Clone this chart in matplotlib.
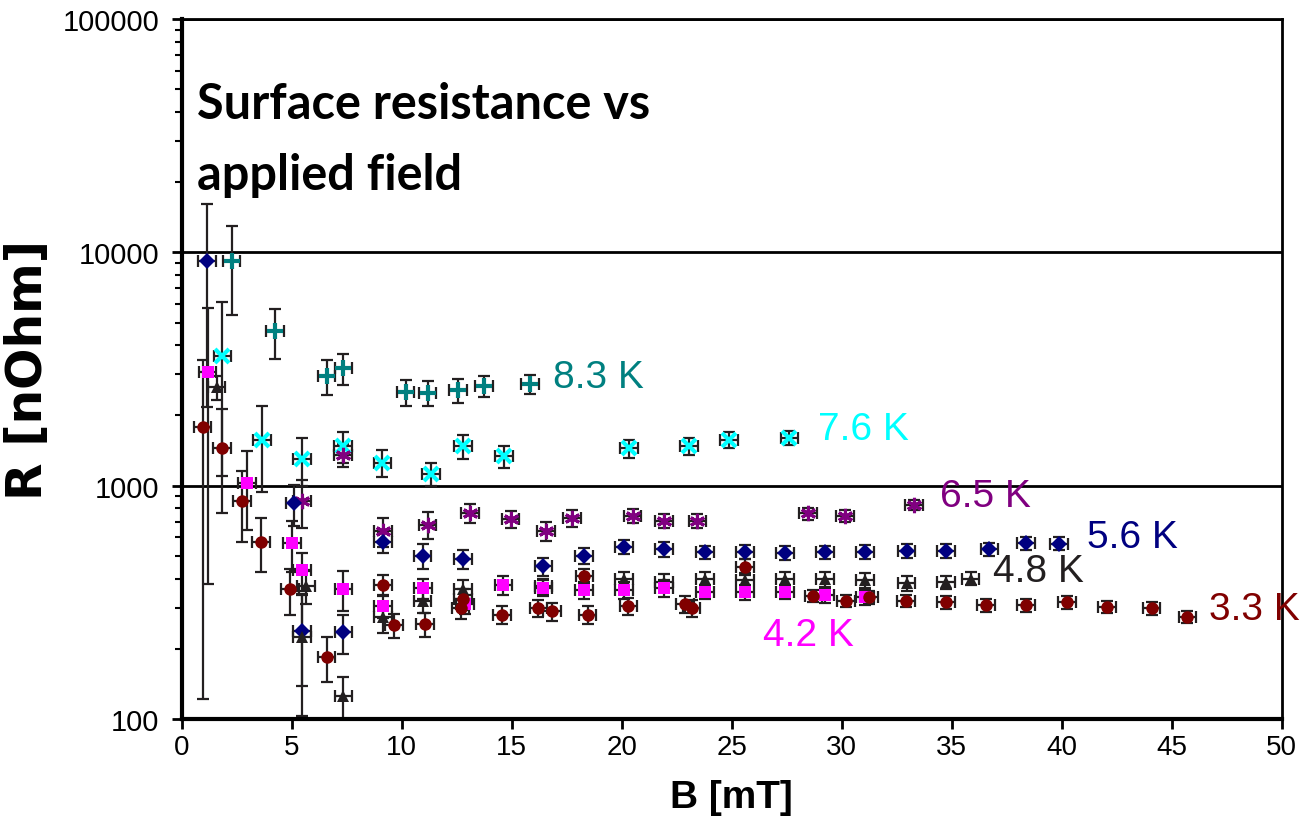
import matplotlib
matplotlib.use("Agg")
import matplotlib.pyplot as plt
import numpy as np

plt.rcParams['font.family'] = ['Liberation Sans', 'DejaVu Sans']

# B [mT], R [nOhm] and R error for each temperature
b_33 = [0.95, 1.82, 2.73, 3.60, 4.92, 6.59, 9.14, 9.65, 11.06, 12.68, 12.80, 14.57, 16.21, 16.82,
        18.30, 18.45, 20.30, 22.88, 23.18, 25.60, 28.71, 30.20, 31.25, 32.92, 34.74, 36.56,
        38.38, 40.23, 42.05, 44.09, 45.71]
r_33 = [1788, 1445, 861, 575, 360, 184, 375, 253, 255, 298, 327, 280, 298, 289,
        411, 280, 304, 311, 298, 449, 337, 321, 332, 321, 316, 308,
        308, 316, 303, 298, 274]
e_33 = [1666, 680, 290, 150, 80, 40, 40, 30, 30, 30, 35, 25, 25, 25,
        30, 25, 25, 25, 25, 35, 20, 20, 20, 20, 20, 20,
        20, 20, 18, 18, 15]

b_42 = [1.18, 2.98, 5.00, 5.48, 7.35, 9.16, 10.98, 12.88, 14.62, 16.44, 18.29, 20.10, 21.92,
        23.79, 25.60, 27.42, 29.24, 31.06]
r_42 = [3080, 1023, 568, 433, 360, 306, 363, 311, 375, 365, 358, 358, 363,
        351, 349, 351, 340, 332]
e_42 = [2700, 380, 140, 80, 70, 35, 35, 30, 35, 30, 30, 30, 30,
        25, 25, 25, 25, 25]

b_48 = [1.59, 5.65, 5.48, 7.35, 9.16, 10.95, 12.80, 16.44, 20.10, 21.92, 23.79, 25.60, 27.42,
        29.24, 31.06, 32.95, 34.74, 35.86]
r_48 = [2640, 372, 224, 126, 273, 321, 360, 370, 398, 387, 398, 394, 398,
        398, 394, 382, 387, 400]
e_48 = [300, 60, 121, 26, 40, 35, 35, 30, 30, 30, 30, 30, 30,
        30, 30, 30, 25, 25]

b_56 = [1.14, 5.12, 5.48, 7.35, 9.16, 10.95, 12.80, 16.44, 18.29, 20.10, 21.92, 23.79, 25.60,
        27.42, 29.24, 31.06, 32.95, 34.74, 36.71, 38.38, 39.89]
r_56 = [9180, 839, 239, 235, 575, 500, 484, 451, 500, 547, 535, 518, 520,
        515, 518, 520, 525, 525, 535, 567, 565]
e_56 = [7000, 170, 100, 45, 60, 60, 45, 40, 40, 40, 40, 35, 35,
        35, 35, 35, 35, 35, 35, 35, 35]

b_65 = [5.48, 7.32, 9.16, 11.18, 13.10, 14.95, 16.55, 17.73, 20.50, 21.92, 23.44, 28.48, 30.15, 33.29]
r_65 = [857, 1357, 637, 680, 761, 719, 641, 724, 741, 709, 709, 761, 743, 826]
e_65 = [200, 150, 90, 90, 70, 60, 60, 60, 50, 50, 50, 45, 45, 40]

b_76 = [1.85, 3.66, 5.48, 7.32, 9.12, 11.33, 12.80, 14.66, 20.33, 23.07, 24.89, 27.62]
r_76 = [3600, 1573, 1300, 1474, 1254, 1122, 1474, 1336, 1445, 1474, 1573, 1600]
e_76 = [2500, 630, 300, 220, 170, 130, 170, 150, 130, 120, 120, 110]

b_83 = [2.27, 4.24, 6.59, 7.35, 10.18, 11.18, 12.57, 13.75, 15.83]
r_83 = [9180, 4600, 2950, 3190, 2520, 2500, 2570, 2670, 2720]
e_83 = [3800, 1100, 500, 480, 330, 300, 300, 280, 260]

b_err = 0.4

# label, colour, marker, text position
series = [
    ('8.3 K', '#008080', '+', b_83, r_83, e_83, (16.88, 2922)),
    ('7.6 K', '#00FFFF', 'x', b_76, r_76, e_76, (28.92, 1749)),
    ('6.5 K', '#800080', (6, 2, 0), b_65, r_65, e_65, (34.47, 902)),
    ('5.6 K', '#000080', 'D', b_56, r_56, e_56, (41.15, 602)),
    ('4.8 K', '#231F20', '^', b_48, r_48, e_48, (36.88, 430)),
    ('4.2 K', '#FF00FF', 's', b_42, r_42, e_42, (26.42, 229)),
    ('3.3 K', '#800000', 'o', b_33, r_33, e_33, (46.70, 296)),
]
line_markers = {'+': (12, 3), 'x': (10, 3), (6, 2, 0): (11, 2.2)}

fig = plt.figure(figsize=(13.07, 8.29), dpi=100)
ax = fig.add_axes([181.7 / 1307, 109 / 829, 1100 / 1307, 700 / 829])

for label, col, mk, bb, rr, ee, pos in series:
    ax.errorbar(bb, rr, yerr=ee, xerr=b_err, fmt='none', ecolor='#231F20',
                elinewidth=1.6, capsize=4, capthick=1.6, zorder=2)
    if mk in line_markers:
        ms, mw = line_markers[mk]
        ax.plot(bb, rr, linestyle='none', marker=mk, color=col, ms=ms, mew=mw, zorder=3)
    else:
        ms = 9 if mk in ('s', 'o') else 8
        ax.plot(bb, rr, linestyle='none', marker=mk, color=col, ms=ms, mew=0, zorder=3)
    ax.text(pos[0], pos[1], label, color=col, fontsize=28, ha='left', va='center',
            clip_on=False)

ax.set_yscale('log')
ax.set_xlim(0, 50)
ax.set_ylim(100, 100000)
ax.set_xticks(np.arange(0, 51, 5))
ax.set_yticks([100, 1000, 10000, 100000])
ax.set_yticklabels(['100', '1000', '10000', '100000'])
ax.tick_params(axis='both', labelsize=20, width=2, length=7, direction='out')
ax.tick_params(axis='y', which='major', labelsize=21, pad=9)
ax.tick_params(axis='y', which='minor', width=1.5, length=5)
ax.yaxis.grid(True, which='major', color='black', lw=2)
for s in ['left', 'bottom']:
    ax.spines[s].set_linewidth(3)
for s in ['top', 'right']:
    ax.spines[s].set_linewidth(2)

ax.set_xlabel('B [mT]', fontsize=28, fontweight='bold', labelpad=14)
ax.set_ylabel('R [nOhm]', fontsize=35, fontweight='bold', labelpad=8,
              family=['DejaVu Sans'])

ax.text(0.014, 0.912, 'Surface resistance vs\napplied field', transform=ax.transAxes,
        fontsize=35, fontweight='bold', family=['Lato', 'DejaVu Sans'],
        ha='left', va='top', linespacing=1.7)

fig.savefig('out.png', dpi=100)
